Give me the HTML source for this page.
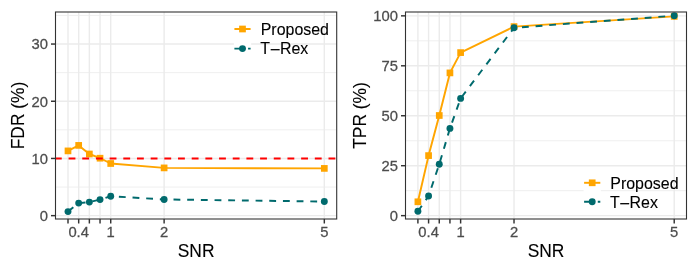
<!DOCTYPE html>
<html><head><meta charset="utf-8"><title>FDR and TPR vs SNR</title>
<style>html,body{margin:0;padding:0;background:#fff}svg{display:block}</style></head>
<body>
<svg width="698" height="272" viewBox="0 0 698 272" font-family="'Liberation Sans', sans-serif">
<rect width="698" height="272" fill="#fff"/>
<clipPath id="c1"><rect x="55.5" y="12" width="281.2" height="207"/></clipPath>
<g clip-path="url(#c1)">
<line x1="55.5" x2="336.7" y1="187.05" y2="187.05" stroke="#EBEBEB" stroke-width="0.8"/>
<line x1="55.5" x2="336.7" y1="129.85" y2="129.85" stroke="#EBEBEB" stroke-width="0.8"/>
<line x1="55.5" x2="336.7" y1="72.65" y2="72.65" stroke="#EBEBEB" stroke-width="0.8"/>
<line x1="55.5" x2="336.7" y1="15.45" y2="15.45" stroke="#EBEBEB" stroke-width="0.8"/>
<line x1="55.5" x2="336.7" y1="215.65" y2="215.65" stroke="#EBEBEB" stroke-width="1.4"/>
<line x1="55.5" x2="336.7" y1="158.45" y2="158.45" stroke="#EBEBEB" stroke-width="1.4"/>
<line x1="55.5" x2="336.7" y1="101.25" y2="101.25" stroke="#EBEBEB" stroke-width="1.4"/>
<line x1="55.5" x2="336.7" y1="44.05" y2="44.05" stroke="#EBEBEB" stroke-width="1.4"/>
<line y1="12" y2="219" x1="68" x2="68" stroke="#EBEBEB" stroke-width="1.4"/>
<line y1="12" y2="219" x1="78.68" x2="78.68" stroke="#EBEBEB" stroke-width="1.4"/>
<line y1="12" y2="219" x1="89.36" x2="89.36" stroke="#EBEBEB" stroke-width="1.4"/>
<line y1="12" y2="219" x1="100.04" x2="100.04" stroke="#EBEBEB" stroke-width="1.4"/>
<line y1="12" y2="219" x1="110.72" x2="110.72" stroke="#EBEBEB" stroke-width="1.4"/>
<line y1="12" y2="219" x1="164.12" x2="164.12" stroke="#EBEBEB" stroke-width="1.4"/>
<line y1="12" y2="219" x1="324.32" x2="324.32" stroke="#EBEBEB" stroke-width="1.4"/>
</g>
<polyline points="68,150.9 78.68,145.4 89.36,154 100.04,158.2 110.72,163.5 164.12,167.9 324.32,168.4" fill="none" stroke="#FFA500" stroke-width="1.95" stroke-linejoin="round"/>
<polyline points="68,211.6 78.68,203.1 89.36,202.1 100.04,199.6 110.72,196.2 164.12,199.45 324.32,201.55" fill="none" stroke="#006A6D" stroke-width="1.95" stroke-dasharray="6.84 6.84" stroke-linejoin="round"/>
<rect x="64.65" y="147.55" width="6.7" height="6.7" fill="#FFA500"/>
<rect x="75.33" y="142.05" width="6.7" height="6.7" fill="#FFA500"/>
<rect x="86.01" y="150.65" width="6.7" height="6.7" fill="#FFA500"/>
<rect x="96.69" y="154.85" width="6.7" height="6.7" fill="#FFA500"/>
<rect x="107.37" y="160.15" width="6.7" height="6.7" fill="#FFA500"/>
<rect x="160.77" y="164.55" width="6.7" height="6.7" fill="#FFA500"/>
<rect x="320.97" y="165.05" width="6.7" height="6.7" fill="#FFA500"/>
<circle cx="68" cy="211.6" r="3.45" fill="#006A6D"/>
<circle cx="78.68" cy="203.1" r="3.45" fill="#006A6D"/>
<circle cx="89.36" cy="202.1" r="3.45" fill="#006A6D"/>
<circle cx="100.04" cy="199.6" r="3.45" fill="#006A6D"/>
<circle cx="110.72" cy="196.2" r="3.45" fill="#006A6D"/>
<circle cx="164.12" cy="199.45" r="3.45" fill="#006A6D"/>
<circle cx="324.32" cy="201.55" r="3.45" fill="#006A6D"/>
<line x1="55.5" x2="336.7" y1="158.45" y2="158.45" stroke="#FF0000" stroke-width="1.95" stroke-dasharray="6.84 6.84" stroke-dashoffset="0.6"/>
<rect x="55.5" y="12" width="281.2" height="207" fill="none" stroke="#333333" stroke-width="1.1"/>
<line x1="68" x2="68" y1="219" y2="223.5" stroke="#333333" stroke-width="1.45"/>
<line x1="78.68" x2="78.68" y1="219" y2="223.5" stroke="#333333" stroke-width="1.45"/>
<line x1="89.36" x2="89.36" y1="219" y2="223.5" stroke="#333333" stroke-width="1.45"/>
<line x1="100.04" x2="100.04" y1="219" y2="223.5" stroke="#333333" stroke-width="1.45"/>
<line x1="110.72" x2="110.72" y1="219" y2="223.5" stroke="#333333" stroke-width="1.45"/>
<line x1="164.12" x2="164.12" y1="219" y2="223.5" stroke="#333333" stroke-width="1.45"/>
<line x1="324.32" x2="324.32" y1="219" y2="223.5" stroke="#333333" stroke-width="1.45"/>
<line y1="215.65" y2="215.65" x1="51" x2="55.5" stroke="#333333" stroke-width="1.45"/>
<line y1="158.45" y2="158.45" x1="51" x2="55.5" stroke="#333333" stroke-width="1.45"/>
<line y1="101.25" y2="101.25" x1="51" x2="55.5" stroke="#333333" stroke-width="1.45"/>
<line y1="44.05" y2="44.05" x1="51" x2="55.5" stroke="#333333" stroke-width="1.45"/>
<text transform="translate(78.68,236.7) scale(1,1.04)" font-size="14.8" fill="#4D4D4D" stroke="#4D4D4D" stroke-width="0.25" text-anchor="middle">0.4</text>
<text transform="translate(110.72,236.7) scale(1,1.04)" font-size="14.8" fill="#4D4D4D" stroke="#4D4D4D" stroke-width="0.25" text-anchor="middle">1</text>
<text transform="translate(164.12,236.7) scale(1,1.04)" font-size="14.8" fill="#4D4D4D" stroke="#4D4D4D" stroke-width="0.25" text-anchor="middle">2</text>
<text transform="translate(324.32,236.7) scale(1,1.04)" font-size="14.8" fill="#4D4D4D" stroke="#4D4D4D" stroke-width="0.25" text-anchor="middle">5</text>
<text transform="translate(47.9,221.05) scale(1,1.04)" font-size="14.8" fill="#4D4D4D" stroke="#4D4D4D" stroke-width="0.25" text-anchor="end">0</text>
<text transform="translate(47.9,163.85) scale(1,1.04)" font-size="14.8" fill="#4D4D4D" stroke="#4D4D4D" stroke-width="0.25" text-anchor="end">10</text>
<text transform="translate(47.9,106.65) scale(1,1.04)" font-size="14.8" fill="#4D4D4D" stroke="#4D4D4D" stroke-width="0.25" text-anchor="end">20</text>
<text transform="translate(47.9,49.45) scale(1,1.04)" font-size="14.8" fill="#4D4D4D" stroke="#4D4D4D" stroke-width="0.25" text-anchor="end">30</text>
<text transform="translate(196.1,256.5) scale(1,1.08)" font-size="17.4" fill="#000" stroke="#000" stroke-width="0.1" text-anchor="middle">SNR</text>
<text transform="translate(23.9,115.5) rotate(-90) scale(1,1.08)" font-size="17.4" fill="#000" stroke="#000" stroke-width="0.1" text-anchor="middle">FDR (%)</text>
<rect x="233.85" y="19.3" width="17.3" height="19.4" fill="#fff"/>
<line x1="234.4" x2="250.6" y1="29" y2="29" stroke="#FFA500" stroke-width="1.95"/>
<rect x="239.15" y="25.65" width="6.7" height="6.7" fill="#FFA500"/>
<text transform="translate(260.7,34.5) scale(1,1.02)" font-size="15.95" fill="#000" stroke="#000" stroke-width="0.1">Proposed</text>
<rect x="233.85" y="38.9" width="17.3" height="19.4" fill="#fff"/>
<line x1="234.4" x2="250.6" y1="48.6" y2="48.6" stroke="#006A6D" stroke-width="1.95" stroke-dasharray="6.84 6.84"/>
<circle cx="242.5" cy="48.6" r="3.45" fill="#006A6D"/>
<text transform="translate(260.7,53.8) scale(1,1.02)" font-size="15.95" fill="#000" stroke="#000" stroke-width="0.1"><tspan dx="-0.4">T</tspan><tspan dx="0.6">–</tspan><tspan dx="0.4">Rex</tspan></text>
<clipPath id="c2"><rect x="405.5" y="12" width="281" height="207"/></clipPath>
<g clip-path="url(#c2)">
<line x1="405.5" x2="686.5" y1="190.68" y2="190.68" stroke="#EBEBEB" stroke-width="0.8"/>
<line x1="405.5" x2="686.5" y1="140.73" y2="140.73" stroke="#EBEBEB" stroke-width="0.8"/>
<line x1="405.5" x2="686.5" y1="90.78" y2="90.78" stroke="#EBEBEB" stroke-width="0.8"/>
<line x1="405.5" x2="686.5" y1="40.83" y2="40.83" stroke="#EBEBEB" stroke-width="0.8"/>
<line x1="405.5" x2="686.5" y1="215.65" y2="215.65" stroke="#EBEBEB" stroke-width="1.4"/>
<line x1="405.5" x2="686.5" y1="165.7" y2="165.7" stroke="#EBEBEB" stroke-width="1.4"/>
<line x1="405.5" x2="686.5" y1="115.75" y2="115.75" stroke="#EBEBEB" stroke-width="1.4"/>
<line x1="405.5" x2="686.5" y1="65.8" y2="65.8" stroke="#EBEBEB" stroke-width="1.4"/>
<line x1="405.5" x2="686.5" y1="15.85" y2="15.85" stroke="#EBEBEB" stroke-width="1.4"/>
<line y1="12" y2="219" x1="417.9" x2="417.9" stroke="#EBEBEB" stroke-width="1.4"/>
<line y1="12" y2="219" x1="428.58" x2="428.58" stroke="#EBEBEB" stroke-width="1.4"/>
<line y1="12" y2="219" x1="439.26" x2="439.26" stroke="#EBEBEB" stroke-width="1.4"/>
<line y1="12" y2="219" x1="449.94" x2="449.94" stroke="#EBEBEB" stroke-width="1.4"/>
<line y1="12" y2="219" x1="460.62" x2="460.62" stroke="#EBEBEB" stroke-width="1.4"/>
<line y1="12" y2="219" x1="514.02" x2="514.02" stroke="#EBEBEB" stroke-width="1.4"/>
<line y1="12" y2="219" x1="674.22" x2="674.22" stroke="#EBEBEB" stroke-width="1.4"/>
</g>
<polyline points="417.9,201.8 428.58,155.6 439.26,115.5 449.94,72.9 460.62,52.6 514.02,26.6 674.22,16.4" fill="none" stroke="#FFA500" stroke-width="1.95" stroke-linejoin="round"/>
<polyline points="417.9,211.3 428.58,196 439.26,164.2 449.94,128.4 460.62,98.4 514.02,27.8" fill="none" stroke="#006A6D" stroke-width="1.95" stroke-dasharray="6.84 6.84" stroke-linejoin="round"/>
<polyline points="514.02,27.8 674.22,15.7" fill="none" stroke="#006A6D" stroke-width="1.95" stroke-dasharray="6.84 6.84" stroke-dashoffset="5.73"/>
<rect x="414.55" y="198.45" width="6.7" height="6.7" fill="#FFA500"/>
<rect x="425.23" y="152.25" width="6.7" height="6.7" fill="#FFA500"/>
<rect x="435.91" y="112.15" width="6.7" height="6.7" fill="#FFA500"/>
<rect x="446.59" y="69.55" width="6.7" height="6.7" fill="#FFA500"/>
<rect x="457.27" y="49.25" width="6.7" height="6.7" fill="#FFA500"/>
<rect x="510.67" y="23.25" width="6.7" height="6.7" fill="#FFA500"/>
<rect x="670.87" y="13.05" width="6.7" height="6.7" fill="#FFA500"/>
<circle cx="417.9" cy="211.3" r="3.45" fill="#006A6D"/>
<circle cx="428.58" cy="196" r="3.45" fill="#006A6D"/>
<circle cx="439.26" cy="164.2" r="3.45" fill="#006A6D"/>
<circle cx="449.94" cy="128.4" r="3.45" fill="#006A6D"/>
<circle cx="460.62" cy="98.4" r="3.45" fill="#006A6D"/>
<circle cx="514.02" cy="27.8" r="3.45" fill="#006A6D"/>
<circle cx="674.22" cy="15.7" r="3.45" fill="#006A6D"/>
<rect x="405.5" y="12" width="281" height="207" fill="none" stroke="#333333" stroke-width="1.1"/>
<line x1="417.9" x2="417.9" y1="219" y2="223.5" stroke="#333333" stroke-width="1.45"/>
<line x1="428.58" x2="428.58" y1="219" y2="223.5" stroke="#333333" stroke-width="1.45"/>
<line x1="439.26" x2="439.26" y1="219" y2="223.5" stroke="#333333" stroke-width="1.45"/>
<line x1="449.94" x2="449.94" y1="219" y2="223.5" stroke="#333333" stroke-width="1.45"/>
<line x1="460.62" x2="460.62" y1="219" y2="223.5" stroke="#333333" stroke-width="1.45"/>
<line x1="514.02" x2="514.02" y1="219" y2="223.5" stroke="#333333" stroke-width="1.45"/>
<line x1="674.22" x2="674.22" y1="219" y2="223.5" stroke="#333333" stroke-width="1.45"/>
<line y1="215.65" y2="215.65" x1="401" x2="405.5" stroke="#333333" stroke-width="1.45"/>
<line y1="165.7" y2="165.7" x1="401" x2="405.5" stroke="#333333" stroke-width="1.45"/>
<line y1="115.75" y2="115.75" x1="401" x2="405.5" stroke="#333333" stroke-width="1.45"/>
<line y1="65.8" y2="65.8" x1="401" x2="405.5" stroke="#333333" stroke-width="1.45"/>
<line y1="15.85" y2="15.85" x1="401" x2="405.5" stroke="#333333" stroke-width="1.45"/>
<text transform="translate(428.58,236.7) scale(1,1.04)" font-size="14.8" fill="#4D4D4D" stroke="#4D4D4D" stroke-width="0.25" text-anchor="middle">0.4</text>
<text transform="translate(460.62,236.7) scale(1,1.04)" font-size="14.8" fill="#4D4D4D" stroke="#4D4D4D" stroke-width="0.25" text-anchor="middle">1</text>
<text transform="translate(514.02,236.7) scale(1,1.04)" font-size="14.8" fill="#4D4D4D" stroke="#4D4D4D" stroke-width="0.25" text-anchor="middle">2</text>
<text transform="translate(674.22,236.7) scale(1,1.04)" font-size="14.8" fill="#4D4D4D" stroke="#4D4D4D" stroke-width="0.25" text-anchor="middle">5</text>
<text transform="translate(397.9,221.05) scale(1,1.04)" font-size="14.8" fill="#4D4D4D" stroke="#4D4D4D" stroke-width="0.25" text-anchor="end">0</text>
<text transform="translate(397.9,171.1) scale(1,1.04)" font-size="14.8" fill="#4D4D4D" stroke="#4D4D4D" stroke-width="0.25" text-anchor="end">25</text>
<text transform="translate(397.9,121.15) scale(1,1.04)" font-size="14.8" fill="#4D4D4D" stroke="#4D4D4D" stroke-width="0.25" text-anchor="end">50</text>
<text transform="translate(397.9,71.2) scale(1,1.04)" font-size="14.8" fill="#4D4D4D" stroke="#4D4D4D" stroke-width="0.25" text-anchor="end">75</text>
<text transform="translate(397.9,21.25) scale(1,1.04)" font-size="14.8" fill="#4D4D4D" stroke="#4D4D4D" stroke-width="0.25" text-anchor="end">100</text>
<text transform="translate(546,256.5) scale(1,1.08)" font-size="17.4" fill="#000" stroke="#000" stroke-width="0.1" text-anchor="middle">SNR</text>
<text transform="translate(365.9,115.5) rotate(-90) scale(1,1.08)" font-size="17.4" fill="#000" stroke="#000" stroke-width="0.1" text-anchor="middle">TPR (%)</text>
<rect x="583.55" y="173.1" width="17.3" height="19.4" fill="#fff"/>
<line x1="584.1" x2="600.3" y1="182.8" y2="182.8" stroke="#FFA500" stroke-width="1.95"/>
<rect x="588.85" y="179.45" width="6.7" height="6.7" fill="#FFA500"/>
<text transform="translate(610.3,188.5) scale(1,1.02)" font-size="15.95" fill="#000" stroke="#000" stroke-width="0.1">Proposed</text>
<rect x="583.55" y="192.1" width="17.3" height="19.4" fill="#fff"/>
<line x1="584.1" x2="600.3" y1="201.8" y2="201.8" stroke="#006A6D" stroke-width="1.95" stroke-dasharray="6.84 6.84"/>
<circle cx="592.2" cy="201.8" r="3.45" fill="#006A6D"/>
<text transform="translate(610.3,207.6) scale(1,1.02)" font-size="15.95" fill="#000" stroke="#000" stroke-width="0.1"><tspan dx="-0.4">T</tspan><tspan dx="0.6">–</tspan><tspan dx="0.4">Rex</tspan></text>
</svg>
</body></html>
